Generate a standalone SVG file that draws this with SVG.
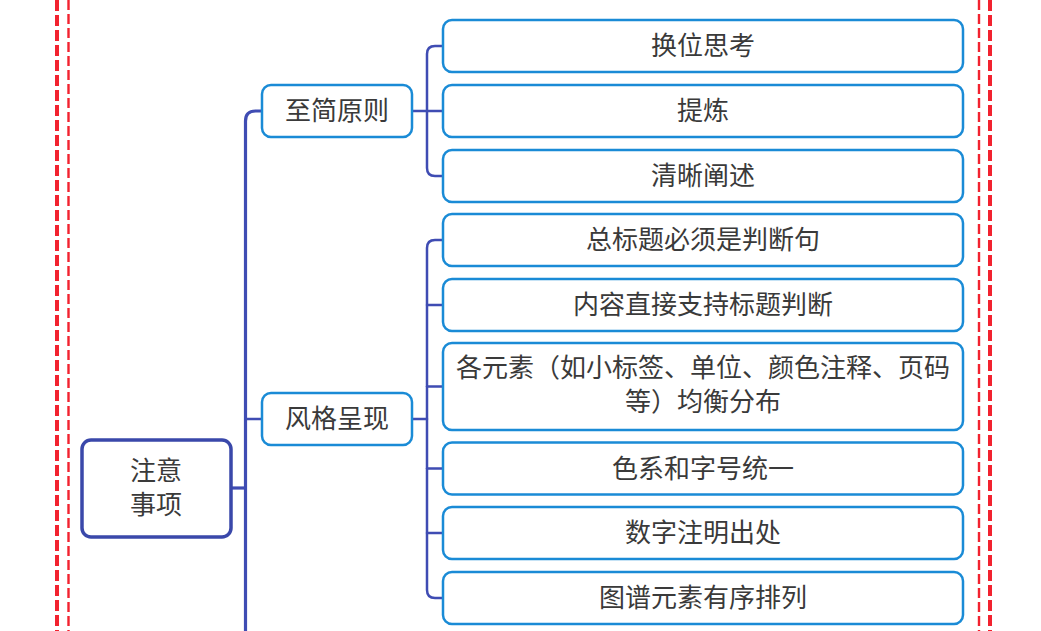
<svg xmlns="http://www.w3.org/2000/svg" width="1041" height="631" viewBox="0 0 1041 631">
<style>
text{font-family:"Noto Sans CJK SC","Liberation Sans",sans-serif;fill:#3a3a3a;font-size:26px;text-anchor:middle}
.root{fill:#fff;stroke:#3a48aa;stroke-width:3.5}
.box{fill:#fff;stroke:#1a8bd6;stroke-width:2.5}
.con{fill:none;stroke:#3f4cb3;stroke-width:2.5;stroke-linecap:round}
.trunk{fill:none;stroke:#3f4cb3;stroke-width:3.2}
.rthick{stroke:#f2222f;stroke-width:4;stroke-dasharray:11 4}
.rthin{stroke:#f2222f;stroke-width:2.4;stroke-dasharray:10 4}
</style>
<rect width="1041" height="631" fill="#fff"/>
<g id="border">
<line class="rthick" x1="57" y1="0" x2="57" y2="631"/>
<line class="rthin" x1="68.5" y1="0" x2="68.5" y2="631"/>
<line class="rthin" x1="979" y1="0" x2="979" y2="631"/>
<line class="rthick" x1="990" y1="0" x2="990" y2="631"/>
</g>
<g id="connectors">
<path class="trunk" d="M245.5 631 V121 Q245.5 111 255.5 111 H262"/>
<path class="trunk" d="M231 488 H245.5"/>
<path class="con" d="M245.5 419 H262"/>
<path class="con" d="M412 111 H443"/>
<path class="con" d="M443 46 H435 Q427 46 427 54 V168 Q427 176 435 176 H443"/>
<path class="con" d="M412 419 H427"/>
<path class="con" d="M443 240 H435 Q427 240 427 248 V590 Q427 598 435 598 H443"/>
<path class="con" d="M427 305 H443"/>
<path class="con" d="M427 386.5 H443"/>
<path class="con" d="M427 468.5 H443"/>
<path class="con" d="M427 533 H443"/>
</g>
<g id="root">
<rect class="root" x="82" y="440" width="149" height="97" rx="9"/>
<text x="156" y="480">注意</text>
<text x="156" y="514">事项</text>
</g>
<g id="n-zhijian">
<rect class="box" x="262" y="85" width="150" height="52" rx="9"/>
<text x="337" y="120">至简原则</text>
</g>
<g id="n-fengge">
<rect class="box" x="262" y="393" width="150" height="52" rx="9"/>
<text x="337" y="428">风格呈现</text>
</g>
<g id="n-huanwei">
<rect class="box" x="443" y="20" width="520" height="52" rx="9"/>
<text x="703" y="55">换位思考</text>
</g>
<g id="n-tilian">
<rect class="box" x="443" y="85" width="520" height="52" rx="9"/>
<text x="703" y="120">提炼</text>
</g>
<g id="n-qingxi">
<rect class="box" x="443" y="150" width="520" height="52" rx="9"/>
<text x="703" y="185">清晰阐述</text>
</g>
<g id="n-zongbiaoti">
<rect class="box" x="443" y="214" width="520" height="52" rx="9"/>
<text x="703" y="249">总标题必须是判断句</text>
</g>
<g id="n-neirong">
<rect class="box" x="443" y="279" width="520" height="52" rx="9"/>
<text x="703" y="314">内容直接支持标题判断</text>
</g>
<g id="n-geyuansu">
<rect class="box" x="443" y="343" width="520" height="87" rx="9"/>
<text x="703" y="377">各元素（如小标签、单位、颜色注释、页码</text>
<text x="703" y="411">等）均衡分布</text>
</g>
<g id="n-sexi">
<rect class="box" x="443" y="442.5" width="520" height="52" rx="9"/>
<text x="703" y="477.5">色系和字号统一</text>
</g>
<g id="n-shuzi">
<rect class="box" x="443" y="507" width="520" height="52" rx="9"/>
<text x="703" y="542">数字注明出处</text>
</g>
<g id="n-tupu">
<rect class="box" x="443" y="572" width="520" height="52" rx="9"/>
<text x="703" y="607">图谱元素有序排列</text>
</g>
</svg>
